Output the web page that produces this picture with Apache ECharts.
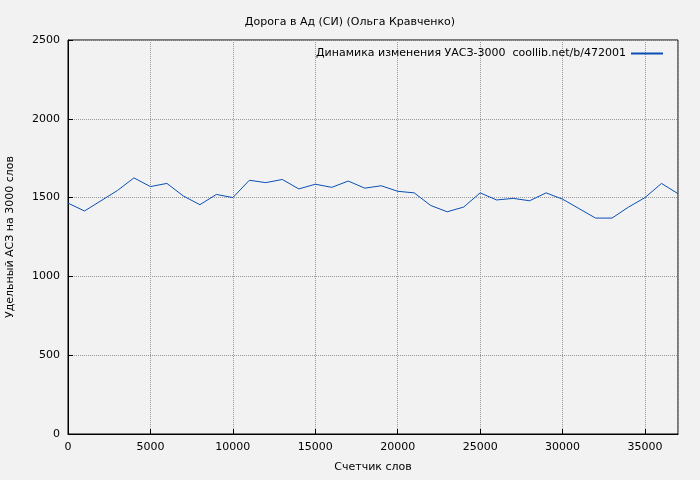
<!DOCTYPE html><html><head><meta charset="utf-8"><script src="https://cdn.jsdelivr.net/npm/echarts@6/dist/echarts.min.js"></script></head>
<body style="margin:0;background:#f2f2f2"><div id="c" style="width:700px;height:480px"></div><script>
const xs=[0,1000,2000,3000,4000,5000,6000,7000,8000,9000,10000,11000,12000,13000,14000,15000,16000,17000,18000,19000,20000,21000,22000,23000,24000,25000,26000,27000,28000,29000,30000,31000,32000,33000,34000,35000,36000,37000];
const ys=[1465,1415,1480,1545,1625,1570,1590,1510,1455,1520,1500,1610,1595,1615,1555,1585,1565,1605,1560,1575,1540,1530,1450,1410,1440,1530,1485,1495,1480,1530,1490,1430,1370,1370,1440,1500,1590,1525];
const f='DejaVu Sans';
const ch=echarts.init(document.getElementById('c'));
ch.setOption({backgroundColor:'#f2f2f2',animation:false,
title:{text:'Дорога в Ад (СИ) (Ольга Кравченко)',left:'center',top:12,textStyle:{fontFamily:f,fontSize:11,fontWeight:'normal',color:'#000'}},
legend:{right:32,top:43,itemWidth:32,itemHeight:2,icon:'rect',align:'right',itemGap:5,textStyle:{fontFamily:f,fontSize:11,color:'#000'},data:['Динамика изменения УАСЗ-3000  coollib.net/b/472001']},
grid:{left:68,right:22,top:40,bottom:46,show:true,borderColor:'#000',borderWidth:1,outerBoundsMode:'none',containLabel:false},
xAxis:{type:'value',min:0,max:37000,interval:5000,name:'Счетчик слов',nameLocation:'middle',nameGap:28,nameTextStyle:{fontFamily:f,fontSize:11,color:'#000'},
axisLine:{lineStyle:{color:'#000'}},axisTick:{inside:true,lineStyle:{color:'#000'}},axisLabel:{fontFamily:f,fontSize:11,color:'#000',showMaxLabel:false,formatter:v=>String(v)},
splitLine:{lineStyle:{type:'dotted',color:'#999'}}},
yAxis:{type:'value',min:0,max:2500,interval:500,name:'Удельный АСЗ на 3000 слов',nameLocation:'middle',nameGap:52,nameTextStyle:{fontFamily:f,fontSize:11,color:'#000'},
axisLine:{show:true,lineStyle:{color:'#000'}},axisTick:{show:true,inside:true,lineStyle:{color:'#000'}},axisLabel:{fontFamily:f,fontSize:11,color:'#000',formatter:v=>String(v)},
splitLine:{lineStyle:{type:'dotted',color:'#999'}}},
series:[{name:'Динамика изменения УАСЗ-3000  coollib.net/b/472001',type:'line',data:xs.map((x,i)=>[x,ys[i]]),showSymbol:false,lineStyle:{color:'#0a4fb5',width:1},itemStyle:{color:'#0a4fb5'}}]
});
</script></body></html>
